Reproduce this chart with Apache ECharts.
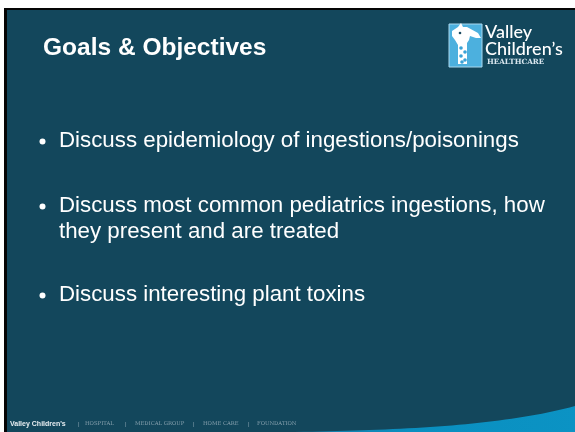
<!DOCTYPE html>
<html><head><meta charset="utf-8">
<script src="https://cdn.jsdelivr.net/npm/echarts@6/dist/echarts.min.js"></script>
<style>html,body{margin:0;padding:0;background:#fff}#c{width:575px;height:432px}</style>
</head><body><div id="c"></div>
<script>
const titleText = "Goals & Objectives";
const bulletLines = [
  ["Discuss epidemiology of ingestions/poisonings"],
  ["Discuss most common pediatrics ingestions, how", "they present and are treated"],
  ["Discuss interesting plant toxins"]
];
const logoLines = ["Valley", "Children\u2019s"];
const logoSub = "HEALTHCARE";
const footerBrand = "Valley Children's";
const footerItems = ["HOSPITAL", "MEDICAL GROUP", "HOME CARE", "FOUNDATION"];

// layout (pixel positions, kept apart from the content)
const bulletMid = [140.5, 205.5, 294.5];
const footerSepX = [78, 125, 193, 248];
const footerItemX = [85, 135, 203, 257];

const chart = echarts.init(document.getElementById('c'), null, {renderer: 'canvas'});
const F = "'Liberation Sans', Arial, sans-serif";
const BG = '#13475c';
const g = [];
g.push({type:'rect', shape:{x:4,y:8,width:575,height:428}, style:{fill:'#050505'}, z:0});
g.push({type:'rect', shape:{x:7,y:10,width:572,height:426}, style:{fill:BG}, z:1});
// bottom right swoosh (cubic bezier sampled)
const P0=[295,432], P1=[410,430], P2=[505,425], P3=[575,406];
const sw = [];
for (let k=0;k<=40;k++){const t=k/40,u=1-t;
  sw.push([u*u*u*P0[0]+3*u*u*t*P1[0]+3*u*t*t*P2[0]+t*t*t*P3[0], u*u*u*P0[1]+3*u*u*t*P1[1]+3*u*t*t*P2[1]+t*t*t*P3[1]]);}
sw.push([580,406],[580,436],[295,436]);
g.push({type:'polygon', shape:{points:sw},
  style:{fill:{type:'linear',x:0,y:0,x2:1,y2:0,colorStops:[{offset:0,color:'#1a7ca6'},{offset:0.4,color:'#0a8fc0'},{offset:1,color:'#0b93c4'}]}}, z:2});
// title
g.push({type:'text', x:43, y:48.5, style:{text:titleText, fill:'#ffffff', font:'bold 24.5px '+F, textVerticalAlign:'middle'}, z:3});
// bullets
bulletLines.forEach((lines, i) => {
  const m = bulletMid[i];
  g.push({type:'circle', shape:{cx:42.5, cy:m+1, r:3}, style:{fill:'#ffffff'}, z:3});
  lines.forEach((ln, j) => {
    g.push({type:'text', x:59, y:m + j*26, style:{text:ln, fill:'#ffffff', font:'22.3px '+F, textVerticalAlign:'middle'}, z:3});
  });
});
// logo box
g.push({type:'rect', shape:{x:449,y:24,width:33,height:43}, style:{fill:'#4cb0de', stroke:'#a9d9ef', lineWidth:1}, z:3});
g.push({type:'polygon', shape:{points:[[452,31],[458,27],[461,23],[463,27],[467,27],[478,33],[481,38],[476,38],[470,36],[469,40],[467,43],[467,64],[458,64],[458,45],[455,40],[452,36]]}, style:{fill:'#ffffff'}, z:4});
g.push({type:'circle', shape:{cx:460,cy:33,r:1.3}, style:{fill:'#1b4a60'}, z:5});
[[461,48],[465,52],[461,56],[465,60],[462,62]].forEach(p=>{
  g.push({type:'circle', shape:{cx:p[0],cy:p[1],r:1.8}, style:{fill:'#3aa2d6'}, z:5});
});
g.push({type:'text', x:485, y:32, style:{text:logoLines[0], fill:'#ffffff', font:'500 18px Lato, "Open Sans", sans-serif', textVerticalAlign:'middle'}, z:4});
g.push({type:'text', x:485, y:49, style:{text:logoLines[1], fill:'#ffffff', font:'500 18px Lato, "Open Sans", sans-serif', textVerticalAlign:'middle'}, z:4});
g.push({type:'text', x:487, y:62, style:{text:logoSub, fill:'#d8e6ee', font:'bold 7.2px "DejaVu Serif", serif', textVerticalAlign:'middle'}, z:4});
// footer
g.push({type:'text', x:10, y:424, style:{text:footerBrand, fill:'#e8eef2', font:'bold 7px '+F, textVerticalAlign:'middle'}, z:4});
footerItems.forEach((t, i) => {
  g.push({type:'text', x:footerSepX[i], y:424, style:{text:'|', fill:'#8aa3b0', font:'6px '+F, textVerticalAlign:'middle'}, z:4});
  g.push({type:'text', x:footerItemX[i], y:424, style:{text:t, fill:'#8aa3b0', font:'5.3px "DejaVu Serif", serif', textVerticalAlign:'middle'}, z:4});
});
chart.setOption({animation:false, backgroundColor:'#ffffff', graphic:{elements:g}});
</script></body></html>
